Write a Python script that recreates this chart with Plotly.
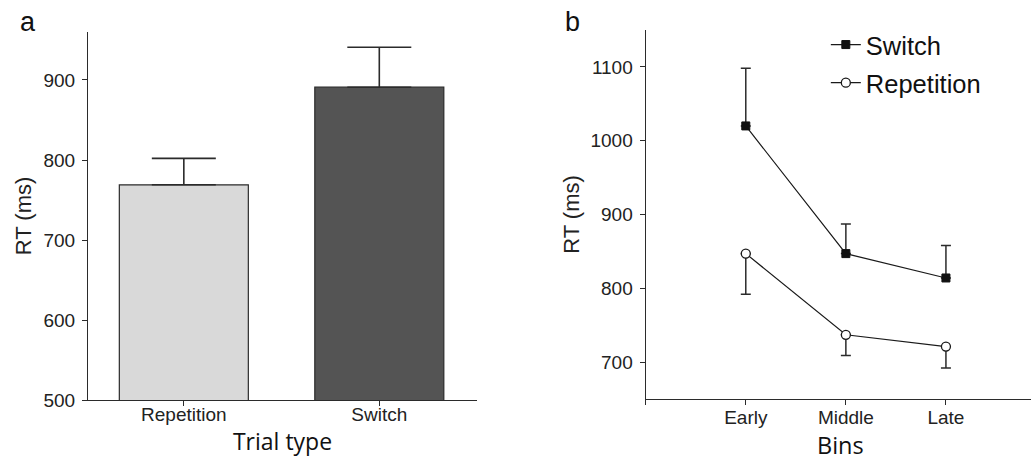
import plotly.graph_objects as go

# ---- Panel a data ----
trial_types = ["Repetition", "Switch"]
rt_means = [769, 891]
rt_err_up = [33, 50]
bar_colors = ["#d9d9d9", "#545454"]

# ---- Panel b data ----
bins_labels = ["Early", "Middle", "Late"]
bins_pos = [1, 2, 3]
switch_rt = [1020, 847, 814]
switch_err_up = [78, 40, 44]
rep_rt = [847, 737, 721]
rep_err_down = [55, 28, 29]

AX = "#2b2b2b"
FONT = "Liberation Sans, Arial, sans-serif"
TITLEFONT = "Open Sans, sans-serif"

fig = go.Figure()

fig.add_trace(go.Bar(
    x=trial_types, y=rt_means, base=0,
    marker=dict(color=bar_colors, line=dict(color=AX, width=1.2)),
    width=0.66,
    error_y=dict(type="data", symmetric=False, array=rt_err_up,
                 arrayminus=[0] * len(rt_err_up), color=AX, thickness=1.6, width=32),
    xaxis="x", yaxis="y", showlegend=False,
))

fig.add_trace(go.Scatter(
    x=bins_pos, y=switch_rt, mode="lines+markers", name="Switch",
    line=dict(color="#1a1a1a", width=1.2),
    marker=dict(symbol="square", size=8, color="#111111", line=dict(color="#111111", width=1)),
    error_y=dict(type="data", symmetric=False, array=switch_err_up,
                 arrayminus=[0] * len(switch_err_up), color=AX, thickness=1.5, width=5),
    xaxis="x2", yaxis="y2", legendgroup="s",
))
fig.add_trace(go.Scatter(
    x=bins_pos, y=rep_rt, mode="lines+markers", name="Repetition",
    line=dict(color="#1a1a1a", width=1.2),
    marker=dict(symbol="circle", size=9, color="white", line=dict(color="#1a1a1a", width=1.3)),
    error_y=dict(type="data", symmetric=False, array=[0] * len(rep_err_down),
                 arrayminus=rep_err_down, color=AX, thickness=1.5, width=5),
    xaxis="x2", yaxis="y2", legendgroup="r",
))

tickfont = dict(family=FONT, size=19, color="#222222")

common = dict(showline=True, linecolor=AX, linewidth=1.3, ticks="outside", ticklen=5,
              tickwidth=1.3, tickcolor=AX, tickfont=tickfont, showgrid=False,
              zeroline=False, automargin=False)

fig.update_layout(
    width=1031, height=457,
    margin=dict(l=0, r=0, t=0, b=0),
    paper_bgcolor="white", plot_bgcolor="white",
    xaxis=dict(domain=[0.0854, 0.4627], range=[-0.49, 1.5], ticklabelstandoff=-8,
               title=dict(text="Trial type", font=dict(family=TITLEFONT, size=23, color="#111"),
                          standoff=11),
               anchor="y", **common),
    yaxis=dict(domain=[0.1247, 0.930], range=[500, 960], ticklabelstandoff=3,
               tickvals=[500, 600, 700, 800, 900],
               title=dict(text="RT (ms)", font=dict(family=FONT, size=22, color="#222"),
                          standoff=5),
               anchor="x", **common),
    xaxis2=dict(domain=[0.6263, 1.0], range=[0, 3.85], ticklabelstandoff=-4,
                tickvals=[0] + bins_pos, ticktext=[""] + bins_labels,
                anchor="y2", **common),
    yaxis2=dict(domain=[0.1269, 0.9344], range=[650, 1150], ticklabelstandoff=3,
                tickvals=[700, 800, 900, 1000, 1100],
                title=dict(text="RT (ms)", font=dict(family=FONT, size=22, color="#222"),
                           standoff=4),
                anchor="x2", **common),
    legend=dict(x=0.801, y=0.953, xanchor="left", yanchor="top",
                font=dict(family=FONT, size=25.5, color="#111"),
                bgcolor="rgba(0,0,0,0)", itemwidth=30, tracegroupgap=2,
                traceorder="grouped"),
    annotations=[
        dict(text="a", x=28 / 1031, y=0.951, xref="paper", yref="paper", showarrow=False,
             xanchor="center", yanchor="middle",
             font=dict(family=FONT, size=27, color="#111")),
        dict(text="b", x=572 / 1031, y=0.951, xref="paper", yref="paper", showarrow=False,
             xanchor="center", yanchor="middle",
             font=dict(family=FONT, size=27, color="#111")),
        dict(text="Bins", x=840 / 1031, y=(457 - 445) / 457, xref="paper", yref="paper",
             showarrow=False, xanchor="center", yanchor="middle",
             font=dict(family=TITLEFONT, size=23.5, color="#111")),
    ],
)

fig.write_html("out.html", config={"displayModeBar": False},
               post_script="document.body.style.margin='0px';")
